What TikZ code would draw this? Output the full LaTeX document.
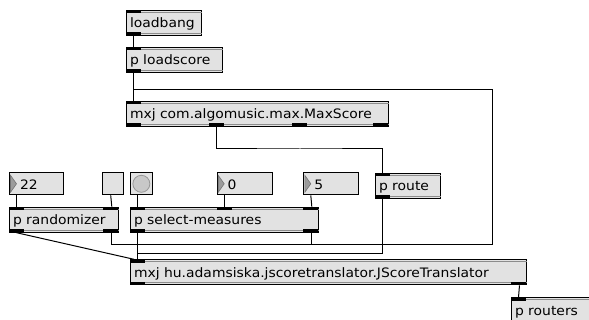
\documentclass[tikz,border=0pt]{standalone}
\usepackage{fontspec}
\newfontfamily\maxfont{DejaVu Sans}[FakeStretch=1.07]
\usetikzlibrary{calc}

\definecolor{boxfill}{RGB}{226,226,226}
\definecolor{innergray}{RGB}{140,140,140}
\definecolor{bangfill}{RGB}{200,200,200}
\definecolor{bangedge}{RGB}{150,150,150}
\definecolor{trifill}{RGB}{155,155,155}
\definecolor{triedge}{RGB}{115,115,115}

\tikzset{
  mobj/.style={rectangle, anchor=north west, draw=black, fill=boxfill, line width=1pt,
    inner xsep=3.5pt, inner ysep=0pt, minimum height=25pt,
    text height=11.5pt, text depth=1.5pt, font=\maxfont\fontsize{13}{15}\selectfont},
  mnum/.style={rectangle, anchor=north west, draw=black, fill=boxfill, line width=1pt,
    inner xsep=0pt, inner ysep=0pt, minimum height=22pt,
    text height=12pt, text depth=1pt, font=\maxfont\fontsize{13}{15}\selectfont},
  cord/.style={draw=black, line width=1pt},
  innerline/.style={draw=innergray, line width=1pt},
  tri/.style={fill=trifill, draw=triedge, line width=0.6pt},
  bangdot/.style={circle, fill=bangfill, draw=bangedge, line width=0.8pt,
    minimum size=17pt, inner sep=0pt},
}

% object box: name, x, y, width, text, inlet offsets, outlet offsets
\newcommand\mobject[7]{%
  \node[mobj, minimum width=#4pt] (#1) at (#2,#3) {\makebox[\dimexpr#4pt-7pt\relax][l]{#5}};
  \draw[innerline] ($(#1.north west)+(0.5,2.5)$) -- ($(#1.north east)+(-0.5,2.5)$);
  \draw[innerline] ($(#1.south west)+(0.5,-2.5)$) -- ($(#1.south east)+(-0.5,-2.5)$);
  \foreach \pp in {#6}{\fill ($(#1.north west)+(\pp,0)$) rectangle +(15,3.5);}
  \foreach \pp in {#7}{\fill ($(#1.south west)+(\pp,0)$) rectangle +(15,-3.5);}
}

% number box: name, x, y, width, value
\newcommand\mnumber[5]{%
  \node[mnum, minimum width=#4pt] (#1) at (#2,#3) {\makebox[#4pt][l]{\hspace*{10.5pt}#5}};
  \filldraw[tri] ($(#1.north west)+(1.5,3)$) -- ($(#1.south west)+(1.5,-3)$)
    -- ($(#1.west)+(7.5,0)$) -- cycle;
}

\begin{document}
\begin{tikzpicture}[x=1pt, y=-1pt]
\useasboundingbox (0,0) rectangle (589,320);
\clip (0,0) rectangle (589,320);
\fill[white] (0,0) rectangle (589,320);

% objects
\mobject{loadbang}{126}{10}{75}{loadbang}{0}{0}
\mobject{loadscore}{126}{46.7}{96}{p loadscore}{0}{0}
\mobject{maxscore}{126}{100.7}{262}{mxj com.algomusic.max.MaxScore}{0}{0,83.3,165.7,247}
\mobject{proute}{375}{172.7}{65}{p route}{0}{0}
\mobject{rand}{9}{206.7}{109.3}{p randomizer}{0,94.3}{0,94.3}
\mobject{selm}{130}{206.7}{188.3}{p select-measures}{0,86.7,173.3}{0,173.3}
\mobject{jscore}{130}{259.3}{396}{mxj hu.adamsiska.jscoretranslator.JScoreTranslator}{0}{0,381}
\mobject{routers}{511}{297.3}{85}{p routers}{0}{0}

% user interface boxes
\mnumber{numA}{9}{172.3}{54.3}{22}
\node[mnum, minimum width=21.6pt] (toggle) at (101.7,172.3) {};
\node[mnum, minimum width=21.7pt] (bang) at (130,172.3) {};
\node[bangdot] (bangcirc) at (bang.center) {};
\mnumber{numB}{216.7}{172.3}{55}{0}
\mnumber{numC}{303.3}{172.3}{55}{5}

% bend points of the routed cords
\coordinate (loopB) at (492.3,244.5);
\coordinate (loopT) at (492.3,89.3);
\coordinate (routeBend) at (300,149);
\coordinate (jsBend) at (250,253.3);

% patch cords
\draw[cord] ($(loadbang.south west)+(7.5,0)$) -- ($(loadscore.north west)+(7.5,0)$);
\draw[cord] ($(loadscore.south west)+(7.5,0)$) -- ($(maxscore.north west)+(7.5,0)$);
\draw[cord] ($(rand.south east)+(-7.5,0)$) |- (loopB) -- (loopT) -| ($(maxscore.north west)+(7.5,0)$);
\draw[cord] ($(selm.south east)+(-7.5,0)$) |- (loopB);
\draw[cord] ($(maxscore.south west)+(90.8,0)$) |- (routeBend) -| ($(proute.north west)+(7.5,0)$);
\draw[cord] ($(proute.south west)+(7.5,0)$) |- (jsBend) -| ($(jscore.north west)+(7.5,0)$);
\draw[cord] ($(selm.south west)+(7.5,0)$) -- ($(jscore.north west)+(7.5,0)$);
\draw[cord] ($(rand.south west)+(7.5,0)$) -- ($(jscore.north west)+(4,0)$);
\draw[cord] ($(numA.south west)+(7.5,0)$) -- ($(rand.north west)+(7.5,0)$);
\draw[cord] ($(toggle.south west)+(9,0)$) -- ($(rand.north east)+(-7.5,0)$);
\draw[cord] ($(bang.south west)+(7.5,0)$) -- ($(selm.north west)+(7.5,0)$);
\draw[cord] ($(numB.south west)+(7.5,0)$) -- ($(selm.north west)+(94.2,0)$);
\draw[cord] ($(numC.south west)+(7.5,0)$) -- ($(selm.north east)+(-7.5,0)$);
\draw[cord] ($(jscore.south east)+(-7.5,0)$) -- ($(routers.north west)+(7.5,0)$);
\end{tikzpicture}
\end{document}
